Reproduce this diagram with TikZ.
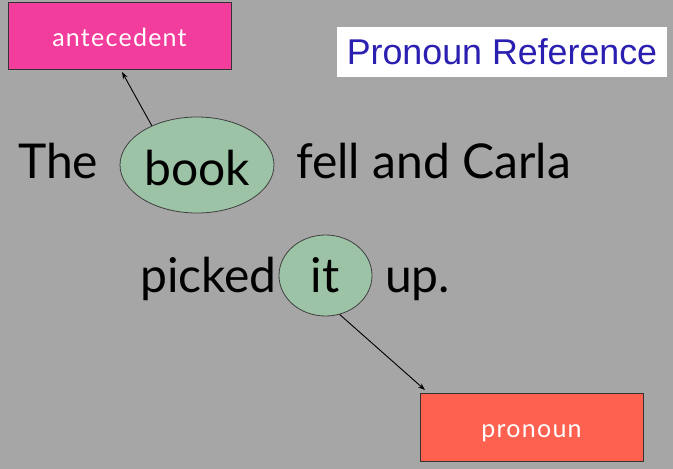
\documentclass[tikz,border=0pt]{standalone}
\usepackage{fontspec}
\setmainfont{Lato}
\newfontfamily\arialfont{Liberation Sans}
\newfontfamily\lblfont[LetterSpace=5]{Lato}
\usetikzlibrary{shapes.geometric,arrows.meta}
\definecolor{bggray}{HTML}{A6A6A6}
\definecolor{pinkbox}{HTML}{F23D9C}
\definecolor{redbox}{HTML}{FF6150}
\definecolor{greenell}{HTML}{9CC3A5}
\definecolor{titleblue}{HTML}{2A1FB0}
\tikzset{
  lbl/.style={draw=black!80, line width=1pt, text=white, inner sep=0pt, font=\lblfont\fontsize{25}{30}\selectfont},
  lbltext/.style={text=white, inner sep=0pt, anchor=base, font=\lblfont\fontsize{25}{30}\selectfont},
  word/.style={inner sep=0pt, anchor=base west, font=\fontsize{48}{56}\selectfont, text=black},
  ell/.style={ellipse, draw=black!75, line width=0.8pt, fill=greenell, inner sep=0pt},
  conn/.style={-{Stealth[length=7pt,width=5pt]}, line width=0.9pt, black}
}
\begin{document}
\begin{tikzpicture}[x=1pt,y=-1pt]
\fill[bggray] (0,0) rectangle (673,469);
\useasboundingbox (0,0) rectangle (673,469);
% title
\node[fill=white, minimum width=330pt, minimum height=50pt, inner sep=0pt, text=titleblue, font=\arialfont\fontsize{35.8}{40}\selectfont] (title) at (502,52) {Pronoun Reference};
% label boxes
\node[lbl, fill=pinkbox, minimum width=223pt, minimum height=67pt] (ante) at (119.5,35.5) {};
\node[lbltext] (antetext) at (119.5,46) {antecedent};
\node[lbl, fill=redbox, minimum width=223pt, minimum height=68pt] (pron) at (531.5,427) {};
\node[lbltext] (prontext) at (531.5,437) {pronoun};
% ellipses
\node[ell, minimum width=154pt, minimum height=96pt] (bookell) at (197,165) {};
\node[ell, minimum width=93pt, minimum height=81pt] (itell) at (325.5,275.5) {};
% words
\node[word] (the) at (18,178) {The};
\node[word, anchor=base] (book) at (197,185) {book};
\node[word] (fell) at (296,178) {fell and Carla};
\node[word] (picked) at (140,292) {picked};
\node[word, anchor=base] (it) at (325,292) {it};
\node[word] (up) at (385,292) {up.};
% connectors
\coordinate (a1) at (122,72);
\coordinate (p1) at (425,390);
\draw[conn] (bookell.139) -- (a1);
\draw[conn] (itell.-70) -- (p1);
\end{tikzpicture}
\end{document}
